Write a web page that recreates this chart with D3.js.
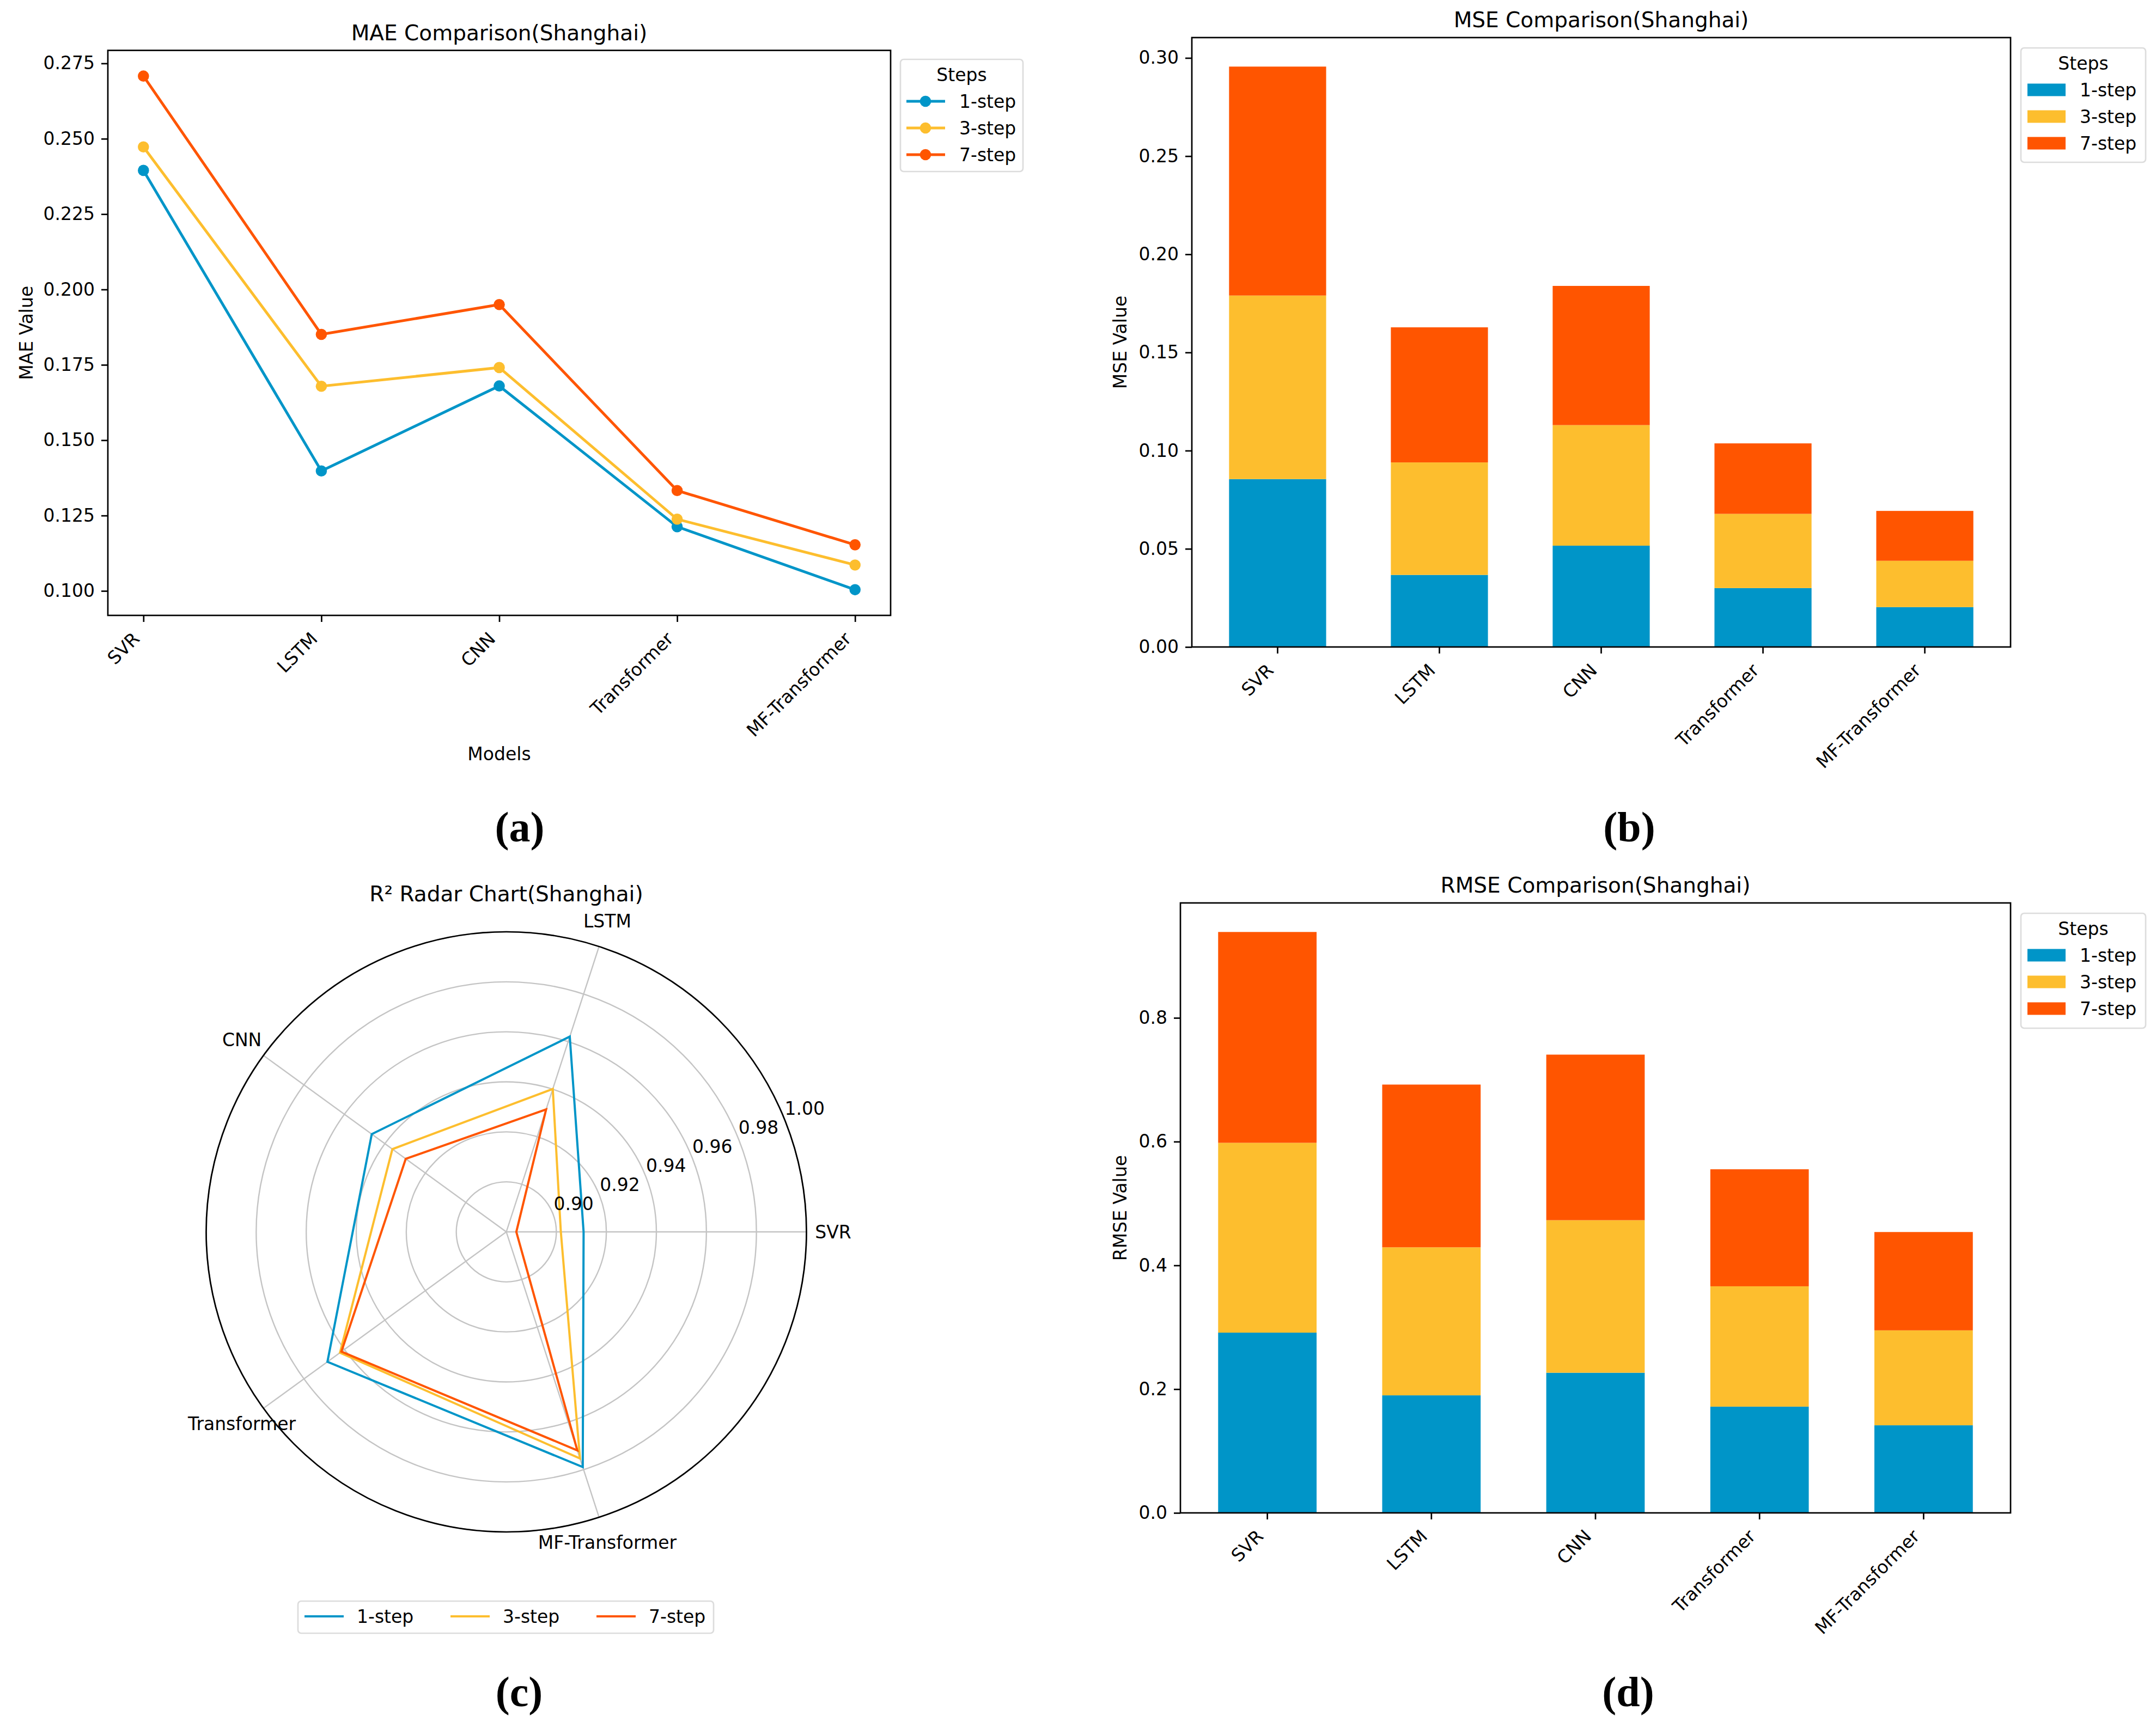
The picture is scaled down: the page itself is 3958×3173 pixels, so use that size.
<!DOCTYPE html>
<html>
<head>
<meta charset="utf-8">
<script src="https://cdn.jsdelivr.net/npm/d3@7"></script>
<style>
  body { margin: 0; background: #fff; }
  text { font-family: "DejaVu Sans", sans-serif; }
</style>
</head>
<body>
<script>
var models = ["SVR", "LSTM", "CNN", "Transformer", "MF-Transformer"];
var steps = ["1-step", "3-step", "7-step"];
var colors = ["#0095c8", "#fdbe2e", "#ff5500"];

// MAE, one array per step
var mae1 = [0.2395, 0.1398, 0.1680, 0.1213, 0.1004];
var mae3 = [0.2473, 0.1679, 0.1741, 0.1238, 0.1086];
var mae7 = [0.2708, 0.1851, 0.1950, 0.1333, 0.1153];

// MSE (stacked)
var mse1 = [0.0855, 0.0367, 0.0516, 0.0300, 0.0203];
var mse3 = [0.0935, 0.0573, 0.0614, 0.0378, 0.0236];
var mse7 = [0.1166, 0.0688, 0.0709, 0.0359, 0.0254];

// RMSE (stacked)
var rmse1 = [0.2913, 0.1900, 0.2265, 0.1717, 0.1416];
var rmse3 = [0.3068, 0.2392, 0.2465, 0.1945, 0.1534];
var rmse7 = [0.3407, 0.2630, 0.2676, 0.1891, 0.1589];

// R2 for the radar
var r2s1 = [0.9109, 0.9621, 0.9465, 0.9684, 0.9789];
var r2s3 = [0.9018, 0.9401, 0.9363, 0.9622, 0.9753];
var r2s7 = [0.8840, 0.9315, 0.9297, 0.9615, 0.9719];

var maeTicks = [0.100, 0.125, 0.150, 0.175, 0.200, 0.225, 0.250, 0.275];
var mseTicks = [0.00, 0.05, 0.10, 0.15, 0.20, 0.25, 0.30];
var rmseTicks = [0.0, 0.2, 0.4, 0.6, 0.8];
var r2Ticks = [0.90, 0.92, 0.94, 0.96, 0.98, 1.00];

var W = 3958, H = 3173;
var FS = 33, TFS = 39, LW = 2.7, TICK = 12;

var svg = d3.select("body").append("svg")
    .attr("width", W)
    .attr("height", H);
svg.append("rect").attr("width", W).attr("height", H).attr("fill", "#fff");

function styleAxis(g) {
  g.select(".domain").remove();
  g.selectAll(".tick line").attr("stroke", "#000").attr("stroke-width", LW);
  g.selectAll(".tick text").attr("font-size", FS).attr("fill", "#000");
}

// rotated category labels, right end under the tick
function rotLabels(g) {
  g.selectAll(".tick text")
    .attr("text-anchor", "end")
    .attr("y", 0).attr("dy", 0)
    .attr("transform", "translate(-5.5,45) rotate(-45)");
}

function frame(box) {
  svg.append("rect")
    .attr("x", box.l).attr("y", box.t)
    .attr("width", box.r - box.l).attr("height", box.b - box.t)
    .attr("fill", "none").attr("stroke", "#000").attr("stroke-width", LW);
}

function title(x, y, s) {
  svg.append("text").attr("x", x).attr("y", y).attr("text-anchor", "middle")
    .attr("font-size", TFS).text(s);
}

function ylabel(x, y, s) {
  svg.append("text").attr("transform", "translate(" + x + "," + y + ") rotate(-90)")
    .attr("text-anchor", "middle").attr("dy", "0.35em")
    .attr("font-size", FS).text(s);
}

function legend(x0, y0, w, h, kind) {
  svg.append("rect").attr("x", x0).attr("y", y0).attr("width", w).attr("height", h)
    .attr("rx", 6).attr("fill", "#fff").attr("fill-opacity", 0.8)
    .attr("stroke", "#dcdcdc").attr("stroke-width", 2.7);
  svg.append("text").attr("x", x0 + w / 2).attr("y", y0 + 40)
    .attr("text-anchor", "middle").attr("font-size", FS).text("Steps");
  steps.forEach(function(s, k) {
    var cy = y0 + 77 + k * 49;
    if (kind == "line") {
      svg.append("line").attr("x1", x0 + 11).attr("x2", x0 + 82).attr("y1", cy).attr("y2", cy)
        .attr("stroke", colors[k]).attr("stroke-width", 5);
      svg.append("circle").attr("cx", x0 + 46).attr("cy", cy).attr("r", 10.3).attr("fill", colors[k]);
    } else {
      svg.append("rect").attr("x", x0 + 12).attr("y", cy - 11.5).attr("width", 70).attr("height", 23)
        .attr("fill", colors[k]);
    }
    svg.append("text").attr("x", x0 + 108).attr("y", cy + 12).attr("font-size", FS).text(s);
  });
}

// ---------- (a) MAE line chart ----------
var boxA = {l: 198, r: 1635, t: 92.5, b: 1130};
var xA = d3.scalePoint().domain(models).range([boxA.l, boxA.r]).padding(0.2);
var maeSeries = [mae1, mae3, mae7];
var ext = d3.extent(mae1.concat(mae3, mae7));
var padA = (ext[1] - ext[0]) * 0.05;
var yA = d3.scaleLinear().domain([ext[0] - padA, ext[1] + padA]).range([boxA.b, boxA.t]);

svg.append("g").attr("transform", "translate(0," + boxA.b + ")")
  .call(d3.axisBottom(xA).tickSize(TICK).tickPadding(TICK))
  .call(styleAxis).call(rotLabels);
svg.append("g").attr("transform", "translate(" + boxA.l + ",0)")
  .call(d3.axisLeft(yA).tickValues(maeTicks).tickFormat(d3.format(".3f")).tickSize(TICK).tickPadding(TICK))
  .call(styleAxis);

var lineA = d3.line()
  .x(function(d, i) { return xA(models[i]); })
  .y(function(d) { return yA(d); });

maeSeries.forEach(function(vals, k) {
  svg.append("path").datum(vals).attr("d", lineA)
    .attr("fill", "none").attr("stroke", colors[k]).attr("stroke-width", 5);
  svg.selectAll(".dotA" + k).data(vals).enter().append("circle")
    .attr("class", "dotA" + k)
    .attr("cx", function(d, i) { return xA(models[i]); })
    .attr("cy", function(d) { return yA(d); })
    .attr("r", 10.3).attr("fill", colors[k]);
});
frame(boxA);
title((boxA.l + boxA.r) / 2, boxA.t - 19, "MAE Comparison(Shanghai)");
svg.append("text").attr("x", (boxA.l + boxA.r) / 2).attr("y", 1396)
  .attr("text-anchor", "middle").attr("font-size", FS).text("Models");
ylabel(48, (boxA.t + boxA.b) / 2, "MAE Value");
legend(1653, 109, 225, 206, "line");

// ---------- (b), (d) stacked bars ----------
function stackPanel(box, s1, s3, s7, ticks, fmt, ttl, ylab) {
  var rows = models.map(function(m, i) {
    return {model: m, "1-step": s1[i], "3-step": s3[i], "7-step": s7[i]};
  });
  var series = d3.stack().keys(steps)(rows);
  var x = d3.scaleBand().domain(models).range([box.l, box.r]).paddingInner(0.4).paddingOuter(0.23);
  var top = d3.max(series[series.length - 1], function(d) { return d[1]; });
  var y = d3.scaleLinear().domain([0, top * 1.05]).range([box.b, box.t]);

  series.forEach(function(ser, k) {
    svg.selectAll(".bar" + ttl.length + k).data(ser).enter().append("rect")
      .attr("class", "bar" + ttl.length + k)
      .attr("x", function(d) { return x(d.data.model); })
      .attr("width", x.bandwidth())
      .attr("y", function(d) { return y(d[1]); })
      .attr("height", function(d) { return y(d[0]) - y(d[1]); })
      .attr("fill", colors[k]);
  });

  svg.append("g").attr("transform", "translate(0," + box.b + ")")
    .call(d3.axisBottom(x).tickSize(TICK).tickPadding(TICK))
    .call(styleAxis).call(rotLabels);
  svg.append("g").attr("transform", "translate(" + box.l + ",0)")
    .call(d3.axisLeft(y).tickValues(ticks).tickFormat(d3.format(fmt)).tickSize(TICK).tickPadding(TICK))
    .call(styleAxis);
  frame(box);
  title((box.l + box.r) / 2, box.t - 19, ttl);
  ylabel(2056, (box.t + box.b) / 2, ylab);
}

stackPanel({l: 2188, r: 3691, t: 69, b: 1188}, mse1, mse3, mse7, mseTicks, ".2f",
  "MSE Comparison(Shanghai)", "MSE Value");
legend(3710, 88, 229, 210, "patch");

stackPanel({l: 2167, r: 3691, t: 1658, b: 2778}, rmse1, rmse3, rmse7, rmseTicks, ".1f",
  "RMSE Comparison(Shanghai)", "RMSE Value");
legend(3710, 1677, 229, 211, "patch");

// ---------- (c) R2 radar ----------
var cx = 929.5, cy = 2262, R = 551;
var rS = d3.scaleLinear().domain([0.88, 1.00]).range([0, R]);
var theta = function(i) { return i * 2 * Math.PI / models.length; };
var radar = svg.append("g").attr("transform", "translate(" + cx + "," + cy + ")");

radar.selectAll(".ring").data(r2Ticks).enter().append("circle")
  .attr("class", "ring")
  .attr("r", function(d) { return rS(d); })
  .attr("fill", "none").attr("stroke", "#c4c4c4").attr("stroke-width", 2.4);
radar.selectAll(".spoke").data(models).enter().append("line")
  .attr("class", "spoke")
  .attr("x1", 0).attr("y1", 0)
  .attr("x2", function(d, i) { return R * Math.cos(theta(i)); })
  .attr("y2", function(d, i) { return -R * Math.sin(theta(i)); })
  .attr("stroke", "#c4c4c4").attr("stroke-width", 2.4);

var radLine = d3.lineRadial()
  .angle(function(d, i) { return Math.PI / 2 - theta(i); })
  .radius(function(d) { return rS(d); })
  .curve(d3.curveLinearClosed);

[r2s1, r2s3, r2s7].forEach(function(vals, k) {
  radar.append("path").datum(vals).attr("d", radLine)
    .attr("fill", "none").attr("stroke", colors[k]).attr("stroke-width", 4)
    .attr("stroke-linejoin", "miter");
});

radar.append("circle").attr("r", R).attr("fill", "none").attr("stroke", "#000").attr("stroke-width", LW);

var lab = 22.5 * Math.PI / 180;
radar.selectAll(".rtick").data(r2Ticks).enter().append("text")
  .attr("class", "rtick")
  .attr("x", function(d) { return (rS(d) + 42) * Math.cos(lab); })
  .attr("y", function(d) { return -(rS(d) + 42) * Math.sin(lab); })
  .attr("text-anchor", "middle").attr("dy", "0.35em")
  .attr("font-size", FS).text(function(d) { return d3.format(".2f")(d); });

radar.selectAll(".cat").data(models).enter().append("text")
  .attr("class", "cat")
  .attr("x", function(d, i) { return 600 * Math.cos(theta(i)); })
  .attr("y", function(d, i) { return -600 * Math.sin(theta(i)); })
  .attr("text-anchor", "middle").attr("dy", "0.35em")
  .attr("font-size", FS).text(function(d) { return d; });

title(cx, 1655, "R\u00b2 Radar Chart(Shanghai)");

// horizontal legend under the radar
svg.append("rect").attr("x", 547).attr("y", 2940).attr("width", 763).attr("height", 59)
  .attr("rx", 6).attr("fill", "#fff").attr("stroke", "#dcdcdc").attr("stroke-width", 2.7);
var legX = [559, 827, 1095];
steps.forEach(function(s, k) {
  svg.append("line").attr("x1", legX[k]).attr("x2", legX[k] + 72).attr("y1", 2968).attr("y2", 2968)
    .attr("stroke", colors[k]).attr("stroke-width", 4);
  svg.append("text").attr("x", legX[k] + 96).attr("y", 2980).attr("font-size", FS).text(s);
});

// panel letters (journal labels, serif)
var letters = [["(a)", 954, 1545], ["(b)", 2991, 1545], ["(c)", 953, 3133], ["(d)", 2989, 3133]];
letters.forEach(function(p) {
  svg.append("text").attr("x", p[1]).attr("y", p[2]).attr("text-anchor", "middle")
    .style("font-family", "'Liberation Serif', 'DejaVu Serif', serif")
    .style("font-weight", "bold")
    .attr("font-size", 78).text(p[0]);
});
</script>
</body>
</html>
